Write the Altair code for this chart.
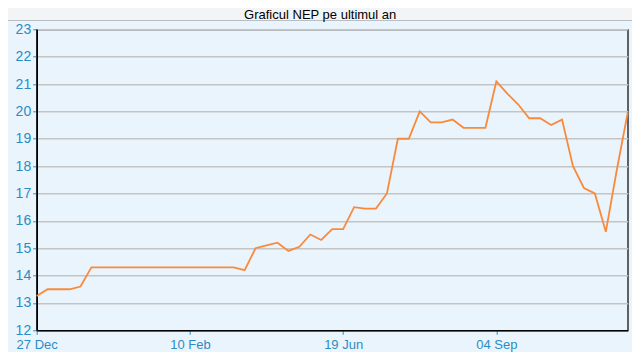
import altair as alt
import pandas as pd

# NEP values, one per sampled point (equally spaced on the x axis)
values = [13.25, 13.5, 13.5, 13.5, 13.6, 14.3,
          14.3, 14.3, 14.3, 14.3, 14.3, 14.3, 14.3, 14.3, 14.3, 14.3, 14.3, 14.3, 14.3,
          14.2, 15.0, 15.1, 15.2, 14.9, 15.05, 15.5, 15.3, 15.7, 15.7,
          16.5, 16.45, 16.45, 17.0, 19.0, 19.0, 20.0, 19.6, 19.6, 19.7,
          19.4, 19.4, 19.4, 21.1, 20.65, 20.25, 19.75, 19.75, 19.5, 19.7,
          18.0, 17.2, 17.0, 15.6, 17.85, 19.95]
tick_index = [0, 14, 28, 42]
tick_labels = ["27 Dec", "10 Feb", "19 Jun", "04 Sep"]
y_ticks = list(range(12, 24))
title_text = ["Graficul NEP pe ultimul an"]

df = pd.DataFrame({"i": list(range(len(values))), "nep": values})

label_expr = "{" + ",".join(f"'{k}':'{v}'" for k, v in zip(tick_index, tick_labels)) + "}[datum.value]"

W, H = 591, 301
PAD_L, PAD_T, PAD_R, PAD_B = 28.7, 21.3, 4.3, 21.7
BLUE = "#2b8cc4"

band = alt.Chart(pd.DataFrame({"a": [0]})).mark_rect(
    fill="#f3f4f5", stroke="#b8bec4", strokeWidth=1.2, clip=False
).encode(
    x=alt.value(-PAD_L - 2), x2=alt.value(W + PAD_R + 2),
    y=alt.value(-PAD_T - 2), y2=alt.value(-PAD_T + 12.5),
)

title = alt.Chart(pd.DataFrame({"t": title_text})).mark_text(
    font="Liberation Sans", fontSize=13, color="#000", baseline="middle", align="center"
).encode(
    text="t:N", x=alt.value(W / 2 - 12), y=alt.value(-PAD_T + 7.4),
)

line = alt.Chart(df).mark_line(color="#f98a3c", strokeWidth=1.8).encode(
    x=alt.X("i:Q", scale=alt.Scale(domain=[0, len(values) - 1], nice=False, zero=False),
            axis=alt.Axis(values=tick_index, labelExpr=label_expr, grid=False, title=None,
                          tickColor=BLUE, tickSize=4, labelColor=BLUE, labelFontSize=13,
                          labelFont="Liberation Sans", labelPadding=4,
                          domainColor="#000", domainWidth=1.6, labelFlush=False)),
    y=alt.Y("nep:Q", scale=alt.Scale(domain=[12, 23], nice=False, zero=False),
            axis=alt.Axis(values=y_ticks, title=None, grid=True, gridColor="#c4c4c4",
                          gridWidth=1.4, tickColor=BLUE, tickSize=4, labelColor=BLUE,
                          labelFontSize=14, labelFont="Liberation Sans", labelPadding=2,
                          domainColor="#000", domainWidth=1.6)),
)

chart = alt.layer(band, title, line).properties(
    width=W, height=H,
    autosize=alt.AutoSizeParams(type="none"),
    padding={"left": PAD_L, "top": PAD_T, "right": PAD_R, "bottom": PAD_B},
    background="#eaf4fd",
).configure_view(stroke="#000", strokeWidth=1.2, fill="#eaf4fd")

chart.save("out.html", embed_options={"renderer": "svg", "actions": False})
